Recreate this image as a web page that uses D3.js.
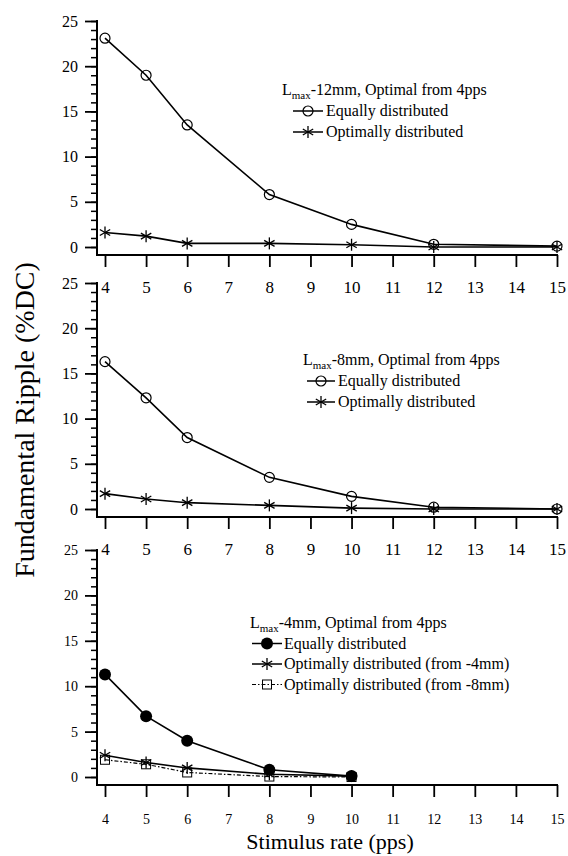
<!DOCTYPE html>
<html>
<head>
<meta charset="utf-8">
<script src="https://cdn.jsdelivr.net/npm/d3@7"></script>
<style>
  html, body { margin: 0; padding: 0; background: #fff; }
  svg { display: block; }
</style>
</head>
<body>
<svg id="chart" width="568" height="856"></svg>
<script>
// ---------- data ----------
const xTickValues = [4, 5, 6, 7, 8, 9, 10, 11, 12, 13, 14, 15];
const yTickValues = [0, 5, 10, 15, 20, 25];
const yMinorValues = d3.range(0, 26, 1);

const rates12 = [4, 5, 6, 8, 10, 12, 15];
const equal12 = [23.1, 19.0, 13.5, 5.8, 2.5, 0.3, 0.1];
const optimal12 = [1.6, 1.2, 0.4, 0.4, 0.25, 0.0, 0.0];

const rates8 = [4, 5, 6, 8, 10, 12, 15];
const equal8 = [16.3, 12.3, 7.9, 3.5, 1.4, 0.2, 0.0];
const optimal8 = [1.7, 1.1, 0.7, 0.4, 0.1, 0.0, 0.0];

const rates4 = [4, 5, 6, 8, 10];
const equal4 = [11.3, 6.7, 4.0, 0.8, 0.1];
const optimal4from4 = [2.4, 1.6, 1.0, 0.3, 0.1];
const optimal4from8 = [1.9, 1.4, 0.5, 0.05, 0.0];

const legendTitles = ["-12mm, Optimal from 4pps", "-8mm, Optimal from 4pps", "-4mm, Optimal from 4pps"];
const labelsTop = ["Equally distributed", "Optimally distributed"];
const labelsBottom = ["Equally distributed", "Optimally distributed (from -4mm)", "Optimally distributed (from -8mm)"];

// ---------- layout ----------
const FONT = "Liberation Serif";
const svg = d3.select("#chart");
const xLeft = 97, xRight = 557;
const x = d3.scaleLinear().domain([4, 15]).range([105, 557]);

const panels = [
  { y0: 247, y25: 21, xFont: 17, yFont: 16, labelOff: 38,
    series: [
      { xs: rates12, ys: equal12, marker: "circle", dash: null },
      { xs: rates12, ys: optimal12, marker: "star", dash: null }
    ],
    legend: { title: legendTitles[0], labels: labelsTop, tx: 282, ty: 95, lx1: 293, lx2: 323, textX: 326, dy: 21 } },
  { y0: 509, y25: 283, xFont: 17, yFont: 16, labelOff: 38,
    series: [
      { xs: rates8, ys: equal8, marker: "circle", dash: null },
      { xs: rates8, ys: optimal8, marker: "star", dash: null }
    ],
    legend: { title: legendTitles[1], labels: labelsTop, tx: 303, ty: 365, lx1: 307, lx2: 335, textX: 338, dy: 21 } },
  { y0: 777, y25: 550, xFont: 14, yFont: 14, labelOff: 39,
    series: [
      { xs: rates4, ys: equal4, marker: "dot", dash: null },
      { xs: rates4, ys: optimal4from4, marker: "star", dash: null },
      { xs: rates4, ys: optimal4from8, marker: "square", dash: "4,2,1.5,2" }
    ],
    legend: { title: legendTitles[2], labels: labelsBottom, tx: 250, ty: 628, lx1: 252, lx2: 282, textX: 284, dy: 20.5 } }
];

function drawMarker(g, type, cx, cy) {
  if (type === "circle") {
    g.append("circle").attr("cx", cx).attr("cy", cy).attr("r", 5)
      .attr("fill", "none").attr("stroke", "#000").attr("stroke-width", 1.2);
  } else if (type === "dot") {
    g.append("circle").attr("cx", cx).attr("cy", cy).attr("r", 6).attr("fill", "#000");
  } else if (type === "square") {
    g.append("rect").attr("x", cx - 4.5).attr("y", cy - 4.5).attr("width", 9).attr("height", 9)
      .attr("fill", "none").attr("stroke", "#000").attr("stroke-width", 1);
  } else if (type === "star") {
    const r = 6;
    const angles = [90, 30, 150];
    angles.forEach(a => {
      const rad = a * Math.PI / 180;
      g.append("line")
        .attr("x1", cx - r * Math.cos(rad)).attr("y1", cy - r * Math.sin(rad))
        .attr("x2", cx + r * Math.cos(rad)).attr("y2", cy + r * Math.sin(rad))
        .attr("stroke", "#000").attr("stroke-width", 1.3);
    });
  }
}

panels.forEach(p => {
  const y = d3.scaleLinear().domain([0, 25]).range([p.y0, p.y25]);
  const axisY = p.y0 + 8;
  const g = svg.append("g");

  // minor y ticks
  g.append("g").attr("transform", `translate(${xLeft},0)`)
    .call(d3.axisLeft(y).tickValues(yMinorValues).tickSize(6).tickFormat(""))
    .call(a => a.select(".domain").remove())
    .call(a => a.selectAll("line").attr("stroke", "#000").attr("stroke-width", 1.5));
  // major y ticks
  g.append("g").attr("transform", `translate(${xLeft},0)`)
    .call(d3.axisLeft(y).tickValues(yTickValues).tickSize(12).tickPadding(7))
    .call(a => a.select(".domain").remove())
    .call(a => a.selectAll("line").attr("stroke", "#000").attr("stroke-width", 1.8))
    .call(a => a.selectAll("text").style("font-family", FONT).style("font-size", p.yFont + "px").attr("fill", "#000"));

  // x axis ticks
  const xa = g.append("g").attr("transform", `translate(0,${axisY})`)
    .call(d3.axisBottom(x).tickValues(xTickValues).tickSize(12).tickFormat(d3.format("d")))
    .call(a => a.select(".domain").remove())
    .call(a => a.selectAll("line").attr("stroke", "#000").attr("stroke-width", 1.8));
  xa.selectAll("text").style("font-family", FONT).style("font-size", p.xFont + "px")
    .attr("fill", "#000").attr("y", p.labelOff).attr("dy", 0);

  // axis lines
  g.append("line").attr("x1", xLeft).attr("x2", xLeft).attr("y1", p.y25 - 1).attr("y2", axisY + 1)
    .attr("stroke", "#000").attr("stroke-width", 2);
  g.append("line").attr("x1", xLeft).attr("x2", xRight + 1).attr("y1", axisY).attr("y2", axisY)
    .attr("stroke", "#000").attr("stroke-width", 2);

  // series
  p.series.forEach(s => {
    const pts = s.xs.map((v, i) => [v, s.ys[i]]);
    const line = d3.line().x(d => x(d[0])).y(d => y(d[1]));
    g.append("path").attr("d", line(pts)).attr("fill", "none").attr("stroke", "#000")
      .attr("stroke-width", s.dash ? 1.2 : 1.6)
      .attr("stroke-dasharray", s.dash);
    const mg = g.append("g");
    pts.forEach(d => drawMarker(mg, s.marker, x(d[0]), y(d[1])));
  });

  // legend
  const L = p.legend;
  const t = g.append("text").attr("x", L.tx).attr("y", L.ty)
    .style("font-family", FONT).style("font-size", "16px");
  t.append("tspan").text("L");
  t.append("tspan").style("font-size", "11px").attr("dy", 4).text("max");
  t.append("tspan").attr("dy", -4).text(L.title);
  L.labels.forEach((lab, i) => {
    const cy = L.ty + L.dy * (i + 1) - 5;
    const s = p.series[i];
    g.append("line").attr("x1", L.lx1).attr("x2", L.lx2).attr("y1", cy).attr("y2", cy)
      .attr("stroke", "#000").attr("stroke-width", s.dash ? 1.2 : 1.5)
      .attr("stroke-dasharray", s.dash);
    drawMarker(g, s.marker, (L.lx1 + L.lx2) / 2, cy);
    g.append("text").attr("x", L.textX).attr("y", cy + 5)
      .style("font-family", FONT).style("font-size", "16px").text(lab);
  });
});

// axis titles
svg.append("text").attr("x", 330).attr("y", 849).attr("text-anchor", "middle")
  .style("font-family", FONT).style("font-size", "22px").text("Stimulus rate (pps)");
svg.append("text").attr("transform", "translate(34,420) rotate(-90)").attr("text-anchor", "middle")
  .style("font-family", FONT).style("font-size", "28px").text("Fundamental Ripple (%DC)");
</script>
</body>
</html>
